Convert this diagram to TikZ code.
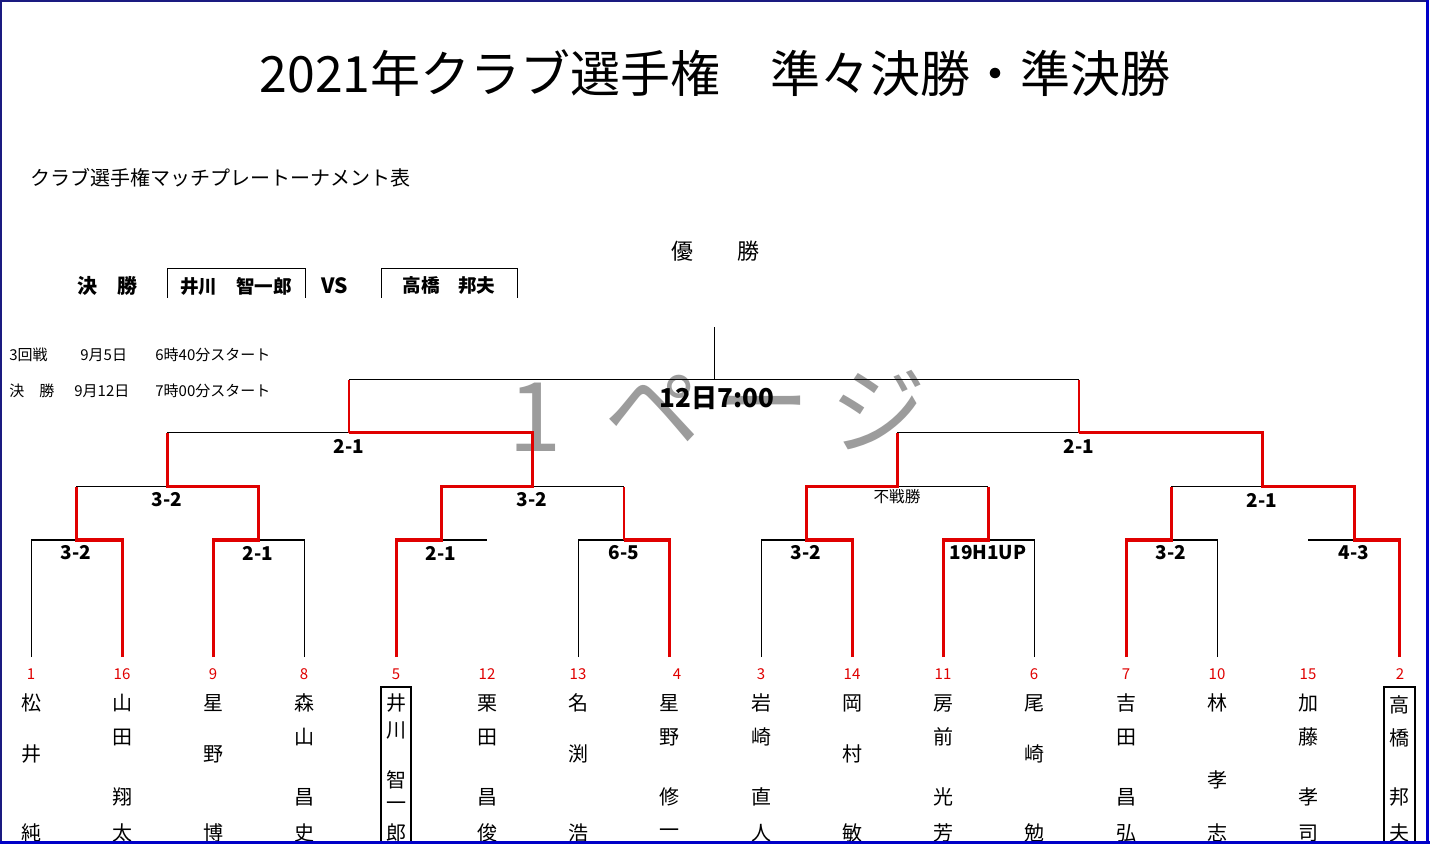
\documentclass[tikz,border=0pt]{standalone}
\usepackage{fontspec}
\setmainfont{Noto Sans CJK JP}
\usetikzlibrary{calc}
\definecolor{wm}{HTML}{9C9C9C}
\definecolor{winred}{HTML}{E00000}
\definecolor{navyb}{HTML}{1A1A80}
\definecolor{blueb}{HTML}{0000C8}
\begin{document}
\begin{tikzpicture}[x=0.5pt,y=-0.5pt,
  wire/.style={draw=black,line width=0.5pt},
  win/.style={draw=winred,line width=1.5pt},
  winthin/.style={draw=winred,line width=1pt},
  score/.style={font=\fontsize{9.5}{10}\selectfont\bfseries,inner sep=0pt},
  seed/.style={font=\fontsize{7.5}{8}\selectfont,text=winred,inner sep=0pt},
  namech/.style={font=\fontsize{10}{10}\selectfont,inner sep=0pt},
  small/.style={font=\fontsize{7.5}{8}\selectfont,inner sep=0pt,anchor=west},
  hdr/.style={font=\fontsize{9.3}{10}\selectfont\bfseries,inner sep=0pt},
  wmch/.style={font=\fontsize{48}{48}\selectfont,text=wm,inner sep=0pt},
  namebox/.style={draw=black,line width=1.25pt}
]
\useasboundingbox (0,0) rectangle (1430,844);
\fill[white] (0,0) rectangle (1430,844);

% watermark
\node[wmch] (wm1) at (535,417) {1};
\node[wmch] (wm2) at (652,410) {ペ};
\node[wmch] (wm3) at (762,417) {ー};
\node[wmch] (wm4) at (878,410) {ジ};

% title and headings
\node[font=\fontsize{25}{25}\selectfont,inner sep=0pt] (title) at (715,73) {2021年クラブ選手権　準々決勝・準決勝};
\node[font=\fontsize{10}{10}\selectfont,inner sep=0pt,anchor=west] (sub) at (30,178) {クラブ選手権マッチプレートーナメント表};
\node[font=\fontsize{11}{11}\selectfont,inner sep=0pt] (champ) at (715,251) {優　　勝};
\node[font=\fontsize{10}{10}\selectfont\bfseries,inner sep=0pt] (kessho) at (107,286) {決　勝};
\node[hdr] (fin1) at (236,286) {井川　智一郎};
\node[font=\fontsize{10.5}{11}\selectfont\bfseries,inner sep=0pt] (vs) at (335,286) {VS};
\node[hdr] (fin2) at (449,286) {高橋　邦夫};
\draw[wire] (167,298) |- (305,269) -- (305,298);
\draw[wire] (381,298) |- (517,269) -- (517,298);

\node[small] (d1a) at (9,355) {3回戦};
\node[small] (d1b) at (80,355) {9月5日};
\node[small] (d1c) at (155,355) {6時40分スタート};
\node[small] (d2a) at (9,391) {決　勝};
\node[small] (d2b) at (74,391) {9月12日};
\node[small] (d2c) at (155,391) {7時00分スタート};

% player tops
\foreach \i/\x in {1/31,2/122,3/213,4/304,5/396,6/487,7/578,8/669,9/761,10/852,11/943,12/1034,13/1126,14/1217,15/1308,16/1399}
  \coordinate (t\i) at (\x,657);
% match points
\foreach \n/\x in {m1/76,m2/258,m3/441,m4/624,m5/806,m6/988,m7/1171,m8/1354}
  \coordinate (\n) at (\x,540);
\foreach \n/\x in {q1/167,q2/532,q3/897,q4/1262}
  \coordinate (\n) at (\x,487);
\coordinate (s1) at (349,433);
\coordinate (s2) at (1079,433);
\coordinate (f) at (714,380);
\coordinate (top) at (714,327);

% black lines
\draw[wire] (t1) |- (m1);
\draw[wire] (t4) |- (m2);
\draw[wire] (m3) -- (m3 -| t6);
\draw[wire] (t7) |- (m4);
\draw[wire] (t9) |- (m5);
\draw[wire] (t12) |- (m6);
\draw[wire] (t14) |- (m7);
\draw[wire] (m8) -- (m8 -| t15);
\draw[wire] (m1 |- q1) -- (q1);
\draw[wire] (q2) -- (m4 |- q2);
\draw[wire] (q3) -- (m6 |- q3);
\draw[wire] (m7 |- q4) -- (q4);
\draw[wire] (q1 |- s1) -- (s1);
\draw[wire] (q3 |- s2) -- (s2);
\draw[wire] (s1 |- f) -- (s2 |- f);
\draw[wire] (f) -- (top);

% red winner paths
\draw[win] (t2) |- (m1) -- (m1 |- q1);
\draw[win] (t3) |- (m2) -- (m2 |- q1) -- (q1) -- (q1 |- s1);
\draw[win] (t5) |- (m3) -- (m3 |- q2) -- (q2) -- (q2 |- s1) -- (s1);
\draw[winthin] (s1) -- (s1 |- f);
\draw[win] (t8) |- (m4);
\draw[winthin] (m4) -- (m4 |- q2);
\draw[win] (t10) |- (m5) -- (m5 |- q3) -- (q3) -- (q3 |- s2);
\draw[win] (t11) |- (m6) -- (m6 |- q3);
\draw[win] (t13) |- (m7) -- (m7 |- q4);
\draw[win] (t16) |- (m8) -- (m8 |- q4) -- (q4) -- (q4 |- s2) -- (s2);
\draw[winthin] (s2) -- (s2 |- f);

% scores
\foreach \n/\s in {m1/3-2,m2/2-1,m3/2-1,m4/6-5,m5/3-2,m6/19H1UP,m7/3-2,m8/4-3,q1/3-2,q2/3-2,q4/2-1,s1/2-1,s2/2-1}
  \node[score,yshift=-6.5pt] (l\n) at (\n) {\s};
\node[font=\fontsize{7.8}{8}\selectfont,inner sep=0pt,yshift=-5pt] (lq3) at (q3) {不戦勝};
\node[font=\fontsize{13}{13}\selectfont\bfseries,inner sep=0pt] (lf) at (717,398) {12日7:00};

% seeds
\foreach \x/\s in {31/1,122/16,213/9,304/8,396/5,487/12,578/13,677/4,761/3,852/14,943/11,1034/6,1126/7,1217/10,1308/15,1400/2}
  \node[seed] (seed\s) at (\x,674) {\s};

% names
\foreach \x/\y/\c [count=\k] in {
  31/703/松,31/754/井,31/833/純,
  122/703/山,122/737/田,122/797/翔,122/833/太,
  213/703/星,213/754/野,213/833/博,
  304/703/森,304/737/山,304/797/昌,304/833/史,
  396/703/井,396/730/川,396/780/智,396/806/一,396/833/郎,
  487/703/栗,487/737/田,487/797/昌,487/833/俊,
  578/703/名,578/754/渕,578/833/浩,
  669/703/星,669/737/野,669/797/修,669/833/一,
  761/703/岩,761/737/崎,761/797/直,761/833/人,
  852/703/岡,852/754/村,852/833/敏,
  943/703/房,943/737/前,943/797/光,943/833/芳,
  1034/703/尾,1034/754/崎,1034/833/勉,
  1126/703/吉,1126/737/田,1126/797/昌,1126/833/弘,
  1217/703/林,1217/780/孝,1217/833/志,
  1308/703/加,1308/737/藤,1308/797/孝,1308/833/司,
  1399/705/高,1399/738/橋,1399/797/邦,1399/833/夫}
  \node[namech] (nm\k) at (\x,\y) {\c};

% finalist boxes
\draw[namebox] (381,844) |- (411,687) -- (411,844);
\draw[namebox] (1384,844) |- (1415,687) -- (1415,844);

% page border
\draw[navyb,line width=0.6pt] (1,844) -- (1,1) -- (1428,1);
\draw[blueb,line width=1.5pt] (1427.5,0) -- (1427.5,844);
\draw[blueb,line width=1.5pt] (0,842.5) -- (1430,842.5);
\end{tikzpicture}
\end{document}
